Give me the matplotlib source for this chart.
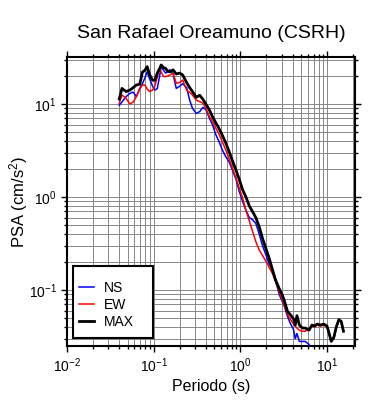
import numpy as np
import matplotlib
matplotlib.use("Agg")
import matplotlib.pyplot as plt
from matplotlib.patches import Rectangle
from matplotlib.ticker import LogLocator, NullFormatter

plt.rcParams['font.family'] = ['Liberation Sans', 'DejaVu Sans']
plt.rcParams['mathtext.fontset'] = 'custom'
plt.rcParams['mathtext.rm'] = 'Liberation Sans'
plt.rcParams['mathtext.it'] = 'Liberation Sans:italic'
plt.rcParams['mathtext.bf'] = 'Liberation Sans:bold'

title = "San Rafael Oreamuno (CSRH)"
series_names = ["NS", "EW", "MAX"]

periods = [0.040, 0.043, 0.048, 0.053, 0.058, 0.063, 0.069, 0.074, 0.079, 0.084,
           0.090, 0.097, 0.103, 0.110, 0.117, 0.122, 0.130, 0.137, 0.145, 0.153,
           0.167, 0.182, 0.199, 0.216, 0.24, 0.26, 0.28, 0.31, 0.34, 0.37,
           0.40, 0.44, 0.48, 0.52, 0.57, 0.62, 0.68, 0.74, 0.81, 0.89,
           0.97, 1.06, 1.16, 1.27, 1.38, 1.51, 1.65, 1.80, 1.97, 2.15,
           2.35, 2.55, 2.8, 3.0, 3.2, 3.5, 3.8, 4.1, 4.3, 4.5,
           4.8, 5.2, 5.6, 6.2, 6.7, 7.2, 7.7, 8.4, 9.2, 10.0,
           10.6, 11.2, 12.0, 12.8, 13.7, 14.6, 15.5]

psa_ns = [9.7, 10.5, 12.0, 13.0, 13.4, 12.0, 14.7, 16.5, 19.0, 22.2,
          18.5, 15.5, 14.1, 14.7, 20.0, 25.5, 23.0, 21.5, 22.0, 23.3,
          21.0, 14.7, 15.5, 16.5, 15.0, 11.0, 9.0, 7.9, 8.3, 9.2,
          8.7, 7.0, 5.9, 4.7, 3.9, 3.2, 2.7, 2.4, 1.95, 1.55,
          1.15, 0.90, 0.72, 0.60, 0.57, 0.52, 0.40, 0.30, 0.24, 0.19,
          0.165, 0.13, 0.09, 0.078, 0.068, 0.052, 0.043, 0.038, 0.030, 0.034,
          0.028, 0.028, 0.028, 0.026, 0.020, np.nan, np.nan, np.nan, np.nan, np.nan,
          np.nan, np.nan, np.nan, np.nan, np.nan, np.nan, np.nan]

psa_ew = [10.2, 12.5, 11.5, 10.0, 10.5, 12.0, 14.5, 16.0, 16.0, 14.5,
          13.6, 14.1, 15.5, 19.5, 24.2, 22.0, 19.7, 19.7, 20.0, 20.5,
          21.5, 16.7, 17.0, 18.1, 14.1, 13.3, 12.5, 11.0, 10.6, 10.2,
          9.0, 7.3, 6.4, 5.5, 4.7, 3.9, 3.2, 2.6, 2.05, 1.6,
          1.25, 0.98, 0.72, 0.55, 0.43, 0.33, 0.27, 0.235, 0.205, 0.175,
          0.15, 0.123, 0.096, 0.082, 0.069, 0.055, 0.048, 0.043, 0.041, 0.039,
          0.037, 0.036, 0.036, 0.038, 0.041, 0.040, 0.042, 0.041, 0.042, 0.040,
          0.033, 0.028, 0.030, 0.039, 0.047, 0.045, 0.036]

psa_max = [11.3, 14.7, 13.6, 14.1, 15.0, 16.0, 16.3, 22.0, 23.0, 25.2,
           20.5, 18.0, 18.0, 21.5, 24.0, 26.3, 24.5, 24.2, 22.5, 22.2,
           23.3, 21.0, 21.5, 20.5, 17.0, 15.0, 13.6, 11.8, 12.4, 11.2,
           10.0, 8.6, 7.2, 6.3, 5.4, 4.6, 3.8, 3.1, 2.45, 1.95,
           1.55, 1.2, 1.0, 0.80, 0.70, 0.60, 0.48, 0.36, 0.28, 0.22,
           0.165, 0.128, 0.104, 0.092, 0.078, 0.059, 0.054, 0.049, 0.042, 0.053,
           0.042, 0.039, 0.039, 0.037, 0.042, 0.041, 0.043, 0.042, 0.043, 0.041,
           0.034, 0.028, 0.031, 0.040, 0.048, 0.046, 0.036]

fig = plt.figure(figsize=(3.9, 4.0), dpi=100)
ax = fig.add_axes([0.172, 0.135, 0.738, 0.7225])

ax.plot(periods, psa_ns, color='#0000ff', lw=1.1, label=series_names[0], zorder=3)
ax.plot(periods, psa_ew, color='#ff0000', lw=1.1, label=series_names[1], zorder=3)
ax.plot(periods, psa_max, color='black', lw=2.0, label=series_names[2], zorder=4)

ax.set_xscale('log')
ax.set_yscale('log')
ax.set_xlim(0.01, 21)
ax.set_ylim(0.025, 32)

for axis in (ax.xaxis, ax.yaxis):
    axis.set_major_locator(LogLocator(base=10))
    axis.set_minor_locator(LogLocator(base=10, subs=np.arange(2, 10)))
    axis.set_minor_formatter(NullFormatter())

ax.grid(True, which='both', color='#808080', lw=0.65)
ax.set_axisbelow(True)
ax.tick_params(which='both', direction='out', top=True, right=True,
               labeltop=False, labelright=False, width=1.0, labelsize=10)
ax.tick_params(which='major', length=4)
ax.tick_params(which='minor', length=2.5)
for s in ax.spines.values():
    s.set_linewidth(1.5)

ax.set_title(title, fontsize=14, pad=14)
ax.set_xlabel('Periodo (s)', fontsize=11.5, labelpad=3)
ax.set_ylabel('PSA (cm/s$^2$)', fontsize=12, labelpad=-1)

rect = Rectangle((0.021, 0.028), 0.279, 0.249, transform=ax.transAxes,
                 facecolor='white', edgecolor='black', lw=1.5, zorder=6)
ax.add_patch(rect)
leg = ax.legend(loc='upper left', bbox_to_anchor=(0.04, 0.225), frameon=False,
                fontsize=10, handlelength=1.1, handletextpad=0.75,
                labelspacing=0.22, borderaxespad=0, borderpad=0)
leg.set_zorder(7)

fig.savefig('out.png', dpi=100)
